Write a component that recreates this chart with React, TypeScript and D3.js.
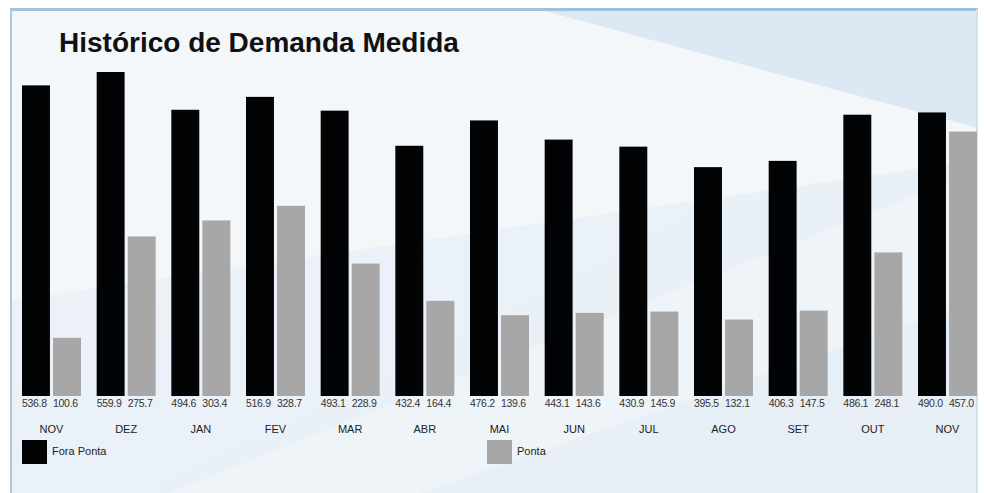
import { useEffect, useRef } from 'react'
import * as d3 from 'd3'

const months = ['NOV', 'DEZ', 'JAN', 'FEV', 'MAR', 'ABR', 'MAI', 'JUN', 'JUL', 'AGO', 'SET', 'OUT', 'NOV']
const foraPonta = [536.8, 559.9, 494.6, 516.9, 493.1, 432.4, 476.2, 443.1, 430.9, 395.5, 406.3, 486.1, 490.0]
const ponta = [100.6, 275.7, 303.4, 328.7, 228.9, 164.4, 139.6, 143.6, 145.9, 132.1, 147.5, 248.1, 457.0]
const seriesNames = ['Fora Ponta', 'Ponta']
const seriesColors = ['#020305', '#a7a7a7']

export default function App() {
  const svgRef = useRef<SVGSVGElement>(null)

  useEffect(() => {
    const width = 984
    const height = 493
    const svg = d3.select(svgRef.current)
    svg.selectAll('*').remove()
    svg.attr('width', width).attr('height', height)

    const defs = svg.append('defs')
    const bg = defs.append('linearGradient').attr('id', 'bg').attr('x1', 0).attr('y1', 0).attr('x2', 1).attr('y2', 1)
    bg.append('stop').attr('offset', '0%').attr('stop-color', '#eef3f8')
    bg.append('stop').attr('offset', '100%').attr('stop-color', '#e6eef6')

    // fundo do painel
    svg.append('rect').attr('width', width).attr('height', height).attr('fill', '#ffffff')
    svg.append('rect').attr('x', 10).attr('y', 9).attr('width', 968).attr('height', 484).attr('fill', 'url(#bg)')
    // faixas diagonais claras
    svg.append('polygon')
      .attr('points', '12,11 545,11 978,128 978,160 12,300')
      .attr('fill', '#f4f7fa').attr('opacity', 0.9)
    svg.append('polygon')
      .attr('points', '545,11 978,11 978,128')
      .attr('fill', '#dce8f3')
    svg.append('polygon')
      .attr('points', '170,493 978,170 978,300 420,493')
      .attr('fill', '#f3f6fa').attr('opacity', 0.6)
    // bordas
    svg.append('line').attr('x1', 10).attr('x2', 978).attr('y1', 9.5).attr('y2', 9.5).attr('stroke', '#9fc2d9').attr('stroke-width', 3)
    svg.append('line').attr('x1', 11).attr('x2', 11).attr('y1', 9).attr('y2', 493).attr('stroke', '#a9c8dc').attr('stroke-width', 2)
    svg.append('line').attr('x1', 977).attr('x2', 977).attr('y1', 9).attr('y2', 493).attr('stroke', '#cfe2ee').attr('stroke-width', 2)

    // título
    svg.append('text')
      .attr('x', 59).attr('y', 52)
      .attr('font-family', 'Liberation Sans, Arial, sans-serif')
      .attr('font-weight', 'bold').attr('font-size', 28)
      .attr('fill', '#111')
      .text('Histórico de Demanda Medida')

    const x0 = d3.scaleBand<string>()
      .domain(months.map((m, i) => `${m}-${i}`))
      .range([22, 977])
      .paddingInner(0.21)
      .paddingOuter(0)

    const x1 = d3.scaleBand<number>()
      .domain([0, 1])
      .range([0, x0.bandwidth()])
      .paddingInner(0.1)

    const y = d3.scaleLinear()
      .domain([0, d3.max(foraPonta) as number])
      .range([396, 72])

    const groups = svg.append('g')
      .selectAll('g')
      .data(months)
      .enter()
      .append('g')
      .attr('transform', (m, i) => `translate(${x0(`${m}-${i}`)},0)`)

    groups.each(function (m, i) {
      const g = d3.select(this)
      const vals = [foraPonta[i], ponta[i]]
      vals.forEach((v, s) => {
        const bx = x1(s) as number
        g.append('rect')
          .attr('x', bx)
          .attr('y', y(v))
          .attr('width', x1.bandwidth())
          .attr('height', y(0) - y(v))
          .attr('fill', seriesColors[s])

        // rótulo cortado na largura da barra, como no original
        const clipId = `clip-${i}-${s}`
        defs.append('clipPath').attr('id', clipId)
          .attr('clipPathUnits', 'userSpaceOnUse')
          .append('rect')
          .attr('x', bx - 1)
          .attr('y', 396)
          .attr('width', x1.bandwidth() + 1)
          .attr('height', 16)

        g.append('text')
          .attr('x', bx)
          .attr('y', 407)
          .attr('clip-path', `url(#${clipId})`)
          .attr('font-family', 'Liberation Sans, Arial, sans-serif')
          .attr('font-size', 10.5)
          .attr('letter-spacing', -0.3)
          .attr('fill', '#333')
          .text(v.toFixed(1))
      })

      g.append('text')
        .attr('x', x0.bandwidth() / 2)
        .attr('y', 433)
        .attr('text-anchor', 'middle')
        .attr('font-family', 'Liberation Sans Narrow, Liberation Sans, Arial, sans-serif')
        .attr('font-size', 11)
        .attr('fill', '#222')
        .text(m)
    })

    // legenda
    const legendX = [22, 487]
    const legend = svg.append('g')
    seriesNames.forEach((name, s) => {
      legend.append('rect')
        .attr('x', legendX[s]).attr('y', 440)
        .attr('width', 25).attr('height', 24)
        .attr('fill', seriesColors[s])
      legend.append('text')
        .attr('x', legendX[s] + 30).attr('y', 455)
        .attr('font-family', 'Liberation Sans Narrow, Liberation Sans, Arial, sans-serif')
        .attr('font-size', 11)
        .attr('fill', '#222')
        .text(name)
    })
  }, [])

  return (
    <div style={{ position: 'absolute', left: 0, top: 0 }}>
      <svg ref={svgRef} style={{ display: 'block' }}></svg>
    </div>
  )
}
